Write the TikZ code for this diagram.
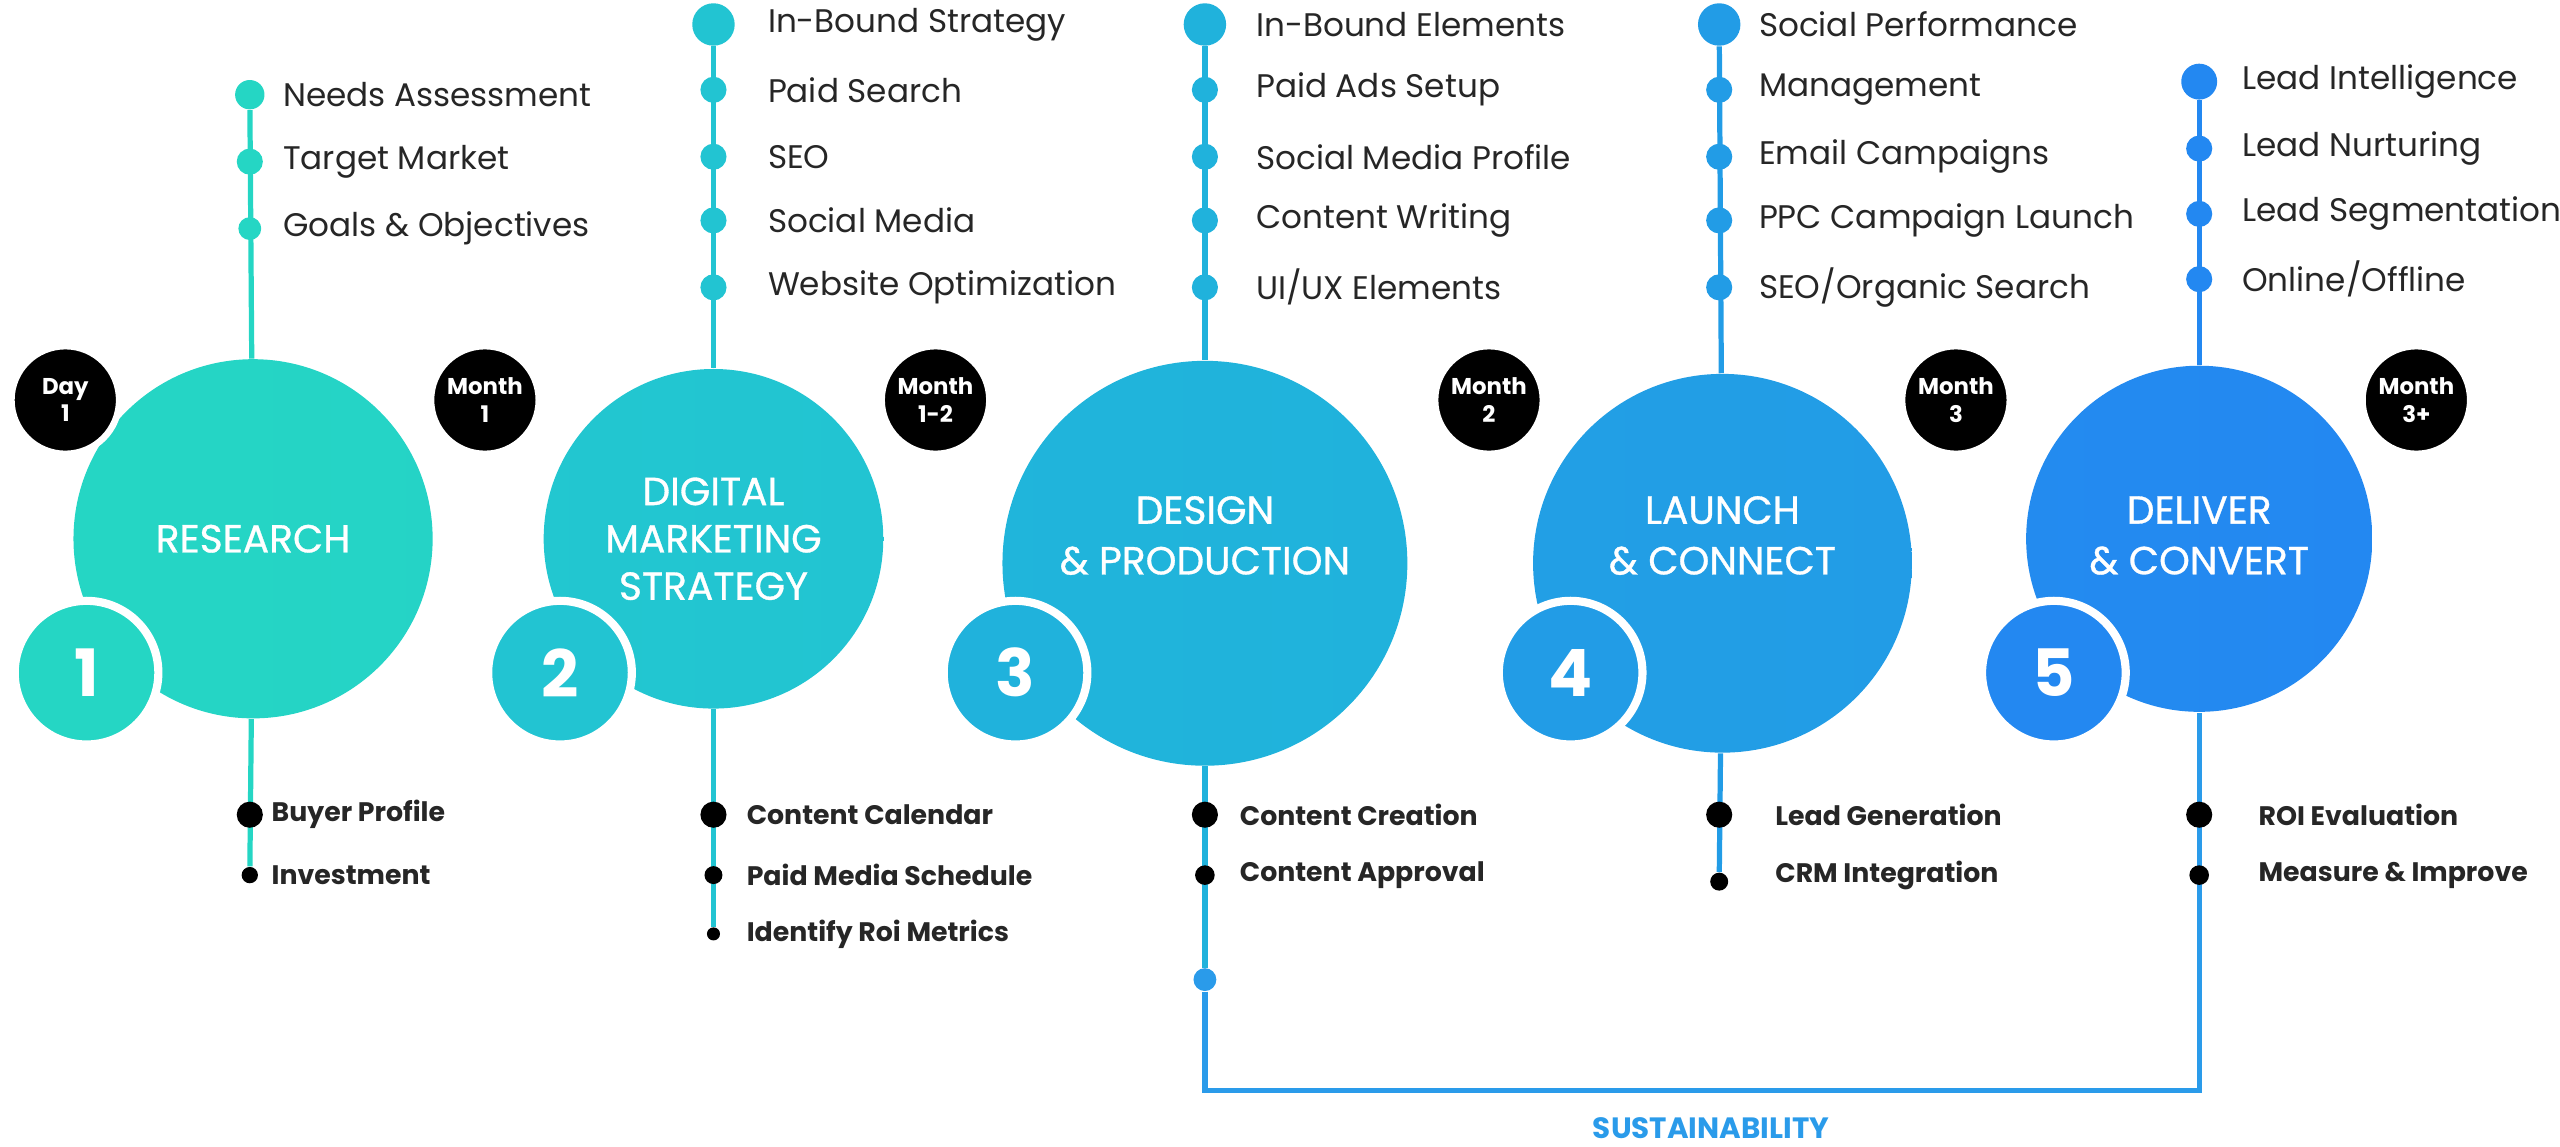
\documentclass[tikz,border=0pt]{standalone}
\usepackage{fontspec}
\setmainfont{Poppins}
\usetikzlibrary{backgrounds}
\definecolor{cA}{HTML}{25D6C4}
\definecolor{cB}{HTML}{22C4D2}
\definecolor{cC}{HTML}{20B2DC}
\definecolor{cD}{HTML}{229CE6}
\definecolor{cE}{HTML}{2388F1}
\definecolor{sus}{HTML}{2A9BEA}
\begin{document}
\begin{tikzpicture}[x=0.5pt,y=-0.5pt,
  big/.style={circle,inner sep=0pt,text=white,align=center,font=\fontsize{12}{14.5}\selectfont\addfontfeatures{FakeBold=0.8}},
  ttl/.style={inner sep=0pt,text=white,align=center,font=\fontsize{12}{15.5}\selectfont\addfontfeatures{FakeBold=0.8}},
  num/.style={circle,inner sep=0pt,minimum size=44pt,draw=white,line width=2.5pt,text=white,font=\fontsize{20}{20}\selectfont\bfseries},
  badge/.style={circle,inner sep=0pt,minimum size=33pt,fill=black,draw=white,line width=2pt,text=white,align=center,font=\fontsize{7}{8.5}\selectfont\bfseries},
  dot/.style={circle,inner sep=0pt,minimum size=8pt},
  item/.style={anchor=west,inner sep=0pt,font=\fontsize{10}{12}\selectfont,text=black!85},
  bdot/.style={circle,inner sep=0pt,fill=black},
  bitem/.style={anchor=west,inner sep=0pt,font=\fontsize{8.2}{10}\selectfont\bfseries,text=black!85},
  ln/.style={line width=1.6pt}]
\useasboundingbox (0,0) rectangle (1568,702);

% main circles
\node[big,minimum size=110pt,left color=cA,right color=cA!85!cB] (c1) at (155,330) {RESEARCH};
\node[big,minimum size=104pt,left color=cB!85!cA,right color=cB] (c2) at (437,330) {DIGITAL\\MARKETING\\STRATEGY};
\node[big,minimum size=124pt,left color=cC!85!cB,right color=cC] (c3) at (738,345) {};
\node[big,minimum size=116pt,left color=cD!85!cC,right color=cD] (c4) at (1055,345) {};
\node[big,minimum size=106pt,left color=cE!85!cD,right color=cE] (c5) at (1347,330) {};
\node[ttl] (l3) at (738,328) {DESIGN\\\& PRODUCTION};
\node[ttl] (l4) at (1055,328) {LAUNCH\\\& CONNECT};
\node[ttl] (l5) at (1347,328) {DELIVER\\\& CONVERT};

% number circles
\node[num,fill=cA] (n1) at (53,412) {1};
\node[num,fill=cB] (n2) at (343,412) {2};
\node[num,fill=cC] (n3) at (622,412) {3};
\node[num,fill=cD] (n4) at (962,412) {4};
\node[num,fill=cE] (n5) at (1258,412) {5};

% badges
\node[badge] (b1) at (40,245) {Day\\1};
\node[badge] (b2) at (297,245) {Month\\1};
\node[badge] (b3) at (573,245) {Month\\1-2};
\node[badge] (b4) at (912,245) {Month\\2};
\node[badge] (b5) at (1198,245) {Month\\3};
\node[badge] (b6) at (1480,245) {Month\\3+};

% column 1
\node[dot,fill=cA,minimum size=9pt] (t1a) at (153,58) {};
\node[dot,fill=cA] (t1b) at (153,99) {};
\node[dot,fill=cA,minimum size=7pt] (t1c) at (153,140) {};
\node[item] at (173,58) {Needs Assessment};
\node[item] at (173,99) {Target Market};
\node[item] at (173,140) {Goals \& Objectives};
\node[bdot,minimum size=8pt] (u1a) at (153,499) {};
\node[bdot,minimum size=5pt] (u1b) at (153,536) {};
\node[bitem] at (166,499) {Buyer Profile};
\node[bitem] at (166,536) {Investment};

% column 2
\node[dot,fill=cB,minimum size=13pt] (t2a) at (437,15) {};
\node[dot,fill=cB] (t2b) at (437,55) {};
\node[dot,fill=cB] (t2c) at (437,96) {};
\node[dot,fill=cB] (t2d) at (437,135) {};
\node[dot,fill=cB] (t2e) at (437,176) {};
\node[item] at (470,15) {In-Bound Strategy};
\node[item] at (470,55) {Paid Search};
\node[item] at (470,96) {SEO};
\node[item] at (470,135) {Social Media};
\node[item] at (470,176) {Website Optimization};
\node[bdot,minimum size=8pt] (u2a) at (437,499) {};
\node[bdot,minimum size=5.5pt] (u2b) at (437,536) {};
\node[bdot,minimum size=4pt] (u2c) at (437,572) {};
\node[bitem] at (457,499) {Content Calendar};
\node[bitem] at (457,536) {Paid Media Schedule};
\node[bitem] at (457,572) {Identify Roi Metrics};

% column 3
\node[dot,fill=cC,minimum size=13pt] (t3a) at (738,15) {};
\node[dot,fill=cC] (t3b) at (738,55) {};
\node[dot,fill=cC] (t3c) at (738,96) {};
\node[dot,fill=cC] (t3d) at (738,135) {};
\node[dot,fill=cC] (t3e) at (738,176) {};
\node[item] at (769,15) {In-Bound Elements};
\node[item] at (769,55) {Paid Ads Setup};
\node[item] at (769,96) {Social Media Profile};
\node[item] at (769,135) {Content Writing};
\node[item] at (769,176) {UI/UX Elements};
\node[bdot,minimum size=8pt] (u3a) at (738,499) {};
\node[bdot,minimum size=6pt] (u3b) at (738,536) {};
\node[bitem] at (759,499) {Content Creation};
\node[bitem] at (759,536) {Content Approval};
\node[dot,fill=sus,minimum size=7pt] (s3) at (738,600) {};

% column 4
\node[dot,fill=cD,minimum size=13pt] (t4a) at (1053,15) {};
\node[dot,fill=cD] (t4b) at (1053,55) {};
\node[dot,fill=cD] (t4c) at (1053,96) {};
\node[dot,fill=cD] (t4d) at (1053,135) {};
\node[dot,fill=cD] (t4e) at (1053,176) {};
\node[item] at (1077,15) {Social Performance};
\node[item] at (1077,55) {Management};
\node[item] at (1077,96) {Email Campaigns};
\node[item] at (1077,135) {PPC Campaign Launch};
\node[item] at (1077,176) {SEO/Organic Search};
\node[bdot,minimum size=8pt] (u4a) at (1053,499) {};
\node[bdot,minimum size=5.5pt] (u4b) at (1053,540) {};
\node[bitem] at (1087,499) {Lead Generation};
\node[bitem] at (1087,536) {CRM Integration};

% column 5
\node[dot,fill=cE,minimum size=11pt] (t5a) at (1347,50) {};
\node[dot,fill=cE] (t5b) at (1347,91) {};
\node[dot,fill=cE] (t5c) at (1347,131) {};
\node[dot,fill=cE] (t5d) at (1347,171) {};
\node[item] at (1373,50) {Lead Intelligence};
\node[item] at (1373,91) {Lead Nurturing};
\node[item] at (1373,131) {Lead Segmentation};
\node[item] at (1373,171) {Online/Offline};
\node[bdot,minimum size=8pt] (u5a) at (1347,499) {};
\node[bdot,minimum size=6pt] (u5b) at (1347,536) {};
\node[bitem] at (1383,499) {ROI Evaluation};
\node[bitem] at (1383,536) {Measure \& Improve};

\coordinate (sb) at (1347,668);
\node[font=\fontsize{9}{10}\selectfont\bfseries,text=sus] (st) at (1048,691) {SUSTAINABILITY};

\begin{scope}[on background layer]
\draw[ln,cA] (t1a) -- (c1) -- (u1b);
\draw[ln,cB] (t2a) -- (c2) -- (u2c);
\draw[ln,cC] (t3a) -- (c3) -- (s3);
\draw[ln,cD] (t4a) -- (c4) -- (u4b);
\draw[ln,cE] (t5a) -- (c5);
\draw[ln,sus] (s3) |- (sb) -- (c5);
\end{scope}
\end{tikzpicture}
\end{document}
